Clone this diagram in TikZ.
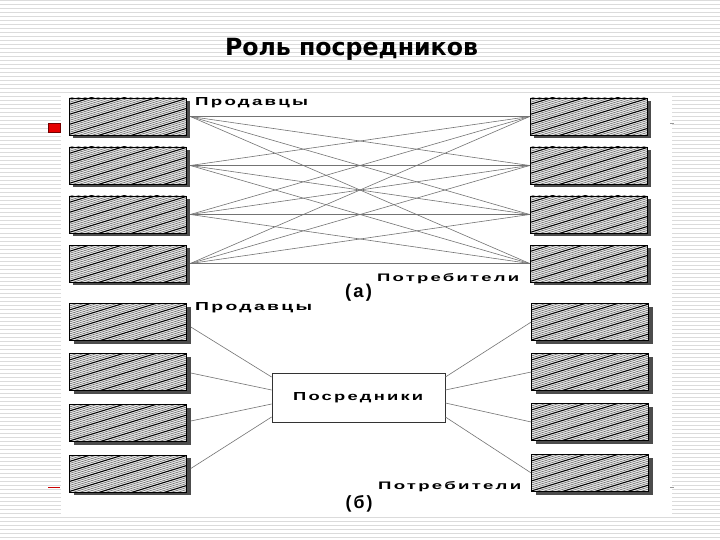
\documentclass[tikz,border=0pt]{standalone}
\usepackage{fontspec}
\setmainfont{DejaVu Sans}
\newfontfamily\lblfont[LetterSpace=12]{Liberation Sans}
\usetikzlibrary{shadows}
\newcommand\lbltext[3]{\resizebox{#1pt}{#2pt}{\lblfont\bfseries #3}}
\tikzset{
  hatchbox/.style={draw=black, line width=0.6pt, fill=black!8,
    minimum width=117pt, minimum height=37pt, inner sep=0pt,
    drop shadow={shadow xshift=4pt, shadow yshift=-3pt, fill=black!70, opacity=1},
    path picture={\begin{scope}[shift={(path picture bounding box.center)}]
      \foreach \o in {-66,-64,...,66} \draw[black!60, line width=0.55pt] (-62,\o+19) -- (62,\o-19);
      \foreach \o in {-60,-50,...,60} \draw[black, line width=1pt] (-62,\o+19) -- (62,\o-19);
    \end{scope}}},
  midbox/.style={draw=black!80, line width=0.8pt, fill=white,
    minimum width=173pt, minimum height=49pt, inner sep=0pt},
  conn/.style={draw=black!55, line width=0.6pt},
  lbl/.style={inner sep=0pt, anchor=base west},
  stripe/.style={draw=black!14, line width=1pt}
}
\begin{document}
\begin{tikzpicture}[x=1pt, y=-1pt]
\useasboundingbox (0,0) rectangle (720,540);
% slide background
\foreach \yy in {1,5,...,540} \draw[stripe] (0,\yy) -- (720,\yy);
\fill[white] (61,93) rectangle (672,517);
% slide bullets and marks
\filldraw[fill=red!90!black, draw=red!45!black, line width=0.5pt] (48,123) rectangle (60,132);
\draw[red!80!black, line width=1pt] (48,487) -- (60,487);
\draw[black!40, line width=0.6pt] (670,123) -- (674,123);
\draw[black!40, line width=0.6pt] (670,487) -- (674,487);
% title
\node[anchor=base, inner sep=0pt] (title) at (351.5,56) {\resizebox{253pt}{!}{\bfseries Роль посредников}};
% (a) part
\node[hatchbox] (L1) at (127.5,116.5) {};
\node[hatchbox] (L2) at (127.5,165.5) {};
\node[hatchbox] (L3) at (127.5,214.5) {};
\node[hatchbox] (L4) at (127.5,263.5) {};
\node[hatchbox] (R1) at (588.5,116.5) {};
\node[hatchbox] (R2) at (588.5,165.5) {};
\node[hatchbox] (R3) at (588.5,214.5) {};
\node[hatchbox] (R4) at (588.5,263.5) {};
\foreach \i in {1,...,4}
  \foreach \j in {1,...,4}
    \draw[conn] ([xshift=4pt]L\i.east) -- (R\j.west);
\node[lbl] (sellA) at (195,106) {\lbltext{113}{8}{Продавцы}};
\node[lbl] (buyA) at (377,281) {\lbltext{142}{8}{Потребители}};
\node[inner sep=0pt] (capA) at (358.5,293) {\resizebox{27pt}{!}{\lblfont\bfseries (а)}};
% (b) part
\node[hatchbox] (BL1) at (128,322) {};
\node[hatchbox] (BL2) at (128,372) {};
\node[hatchbox] (BL3) at (128,423) {};
\node[hatchbox] (BL4) at (128,473.5) {};
\node[hatchbox] (BR1) at (590,322) {};
\node[hatchbox] (BR2) at (590,372) {};
\node[hatchbox] (BR3) at (590,422) {};
\node[hatchbox] (BR4) at (590,473) {};
\node[midbox] (M) at (358.5,397.5) {};
\node[lbl] (midtxt) at (293,400) {\lbltext{130}{8}{Посредники}};
\draw[conn] ([shift={(4pt,-5pt)}]BL1.east) -- ([yshift=20.5pt]M.west);
\draw[conn] ([shift={(4pt,-1pt)}]BL2.east) -- ([yshift=7.5pt]M.west);
\draw[conn] ([shift={(4pt,2pt)}]BL3.east) -- ([yshift=-6.5pt]M.west);
\draw[conn] ([shift={(4pt,5pt)}]BL4.east) -- ([yshift=-19.5pt]M.west);
\draw[conn] ([yshift=20.5pt]M.east) -- (BR1.west);
\draw[conn] ([yshift=7.5pt]M.east) -- (BR2.west);
\draw[conn] ([yshift=-5.5pt]M.east) -- (BR3.west);
\draw[conn] ([yshift=-19.5pt]M.east) -- (BR4.west);
\node[lbl] (sellB) at (195,310) {\lbltext{117}{8}{Продавцы}};
\node[lbl] (buyB) at (378,489) {\lbltext{143}{8}{Потребители}};
\node[inner sep=0pt] (capB) at (359,503.5) {\resizebox{27pt}{!}{\lblfont\bfseries (б)}};
\end{tikzpicture}
\end{document}
